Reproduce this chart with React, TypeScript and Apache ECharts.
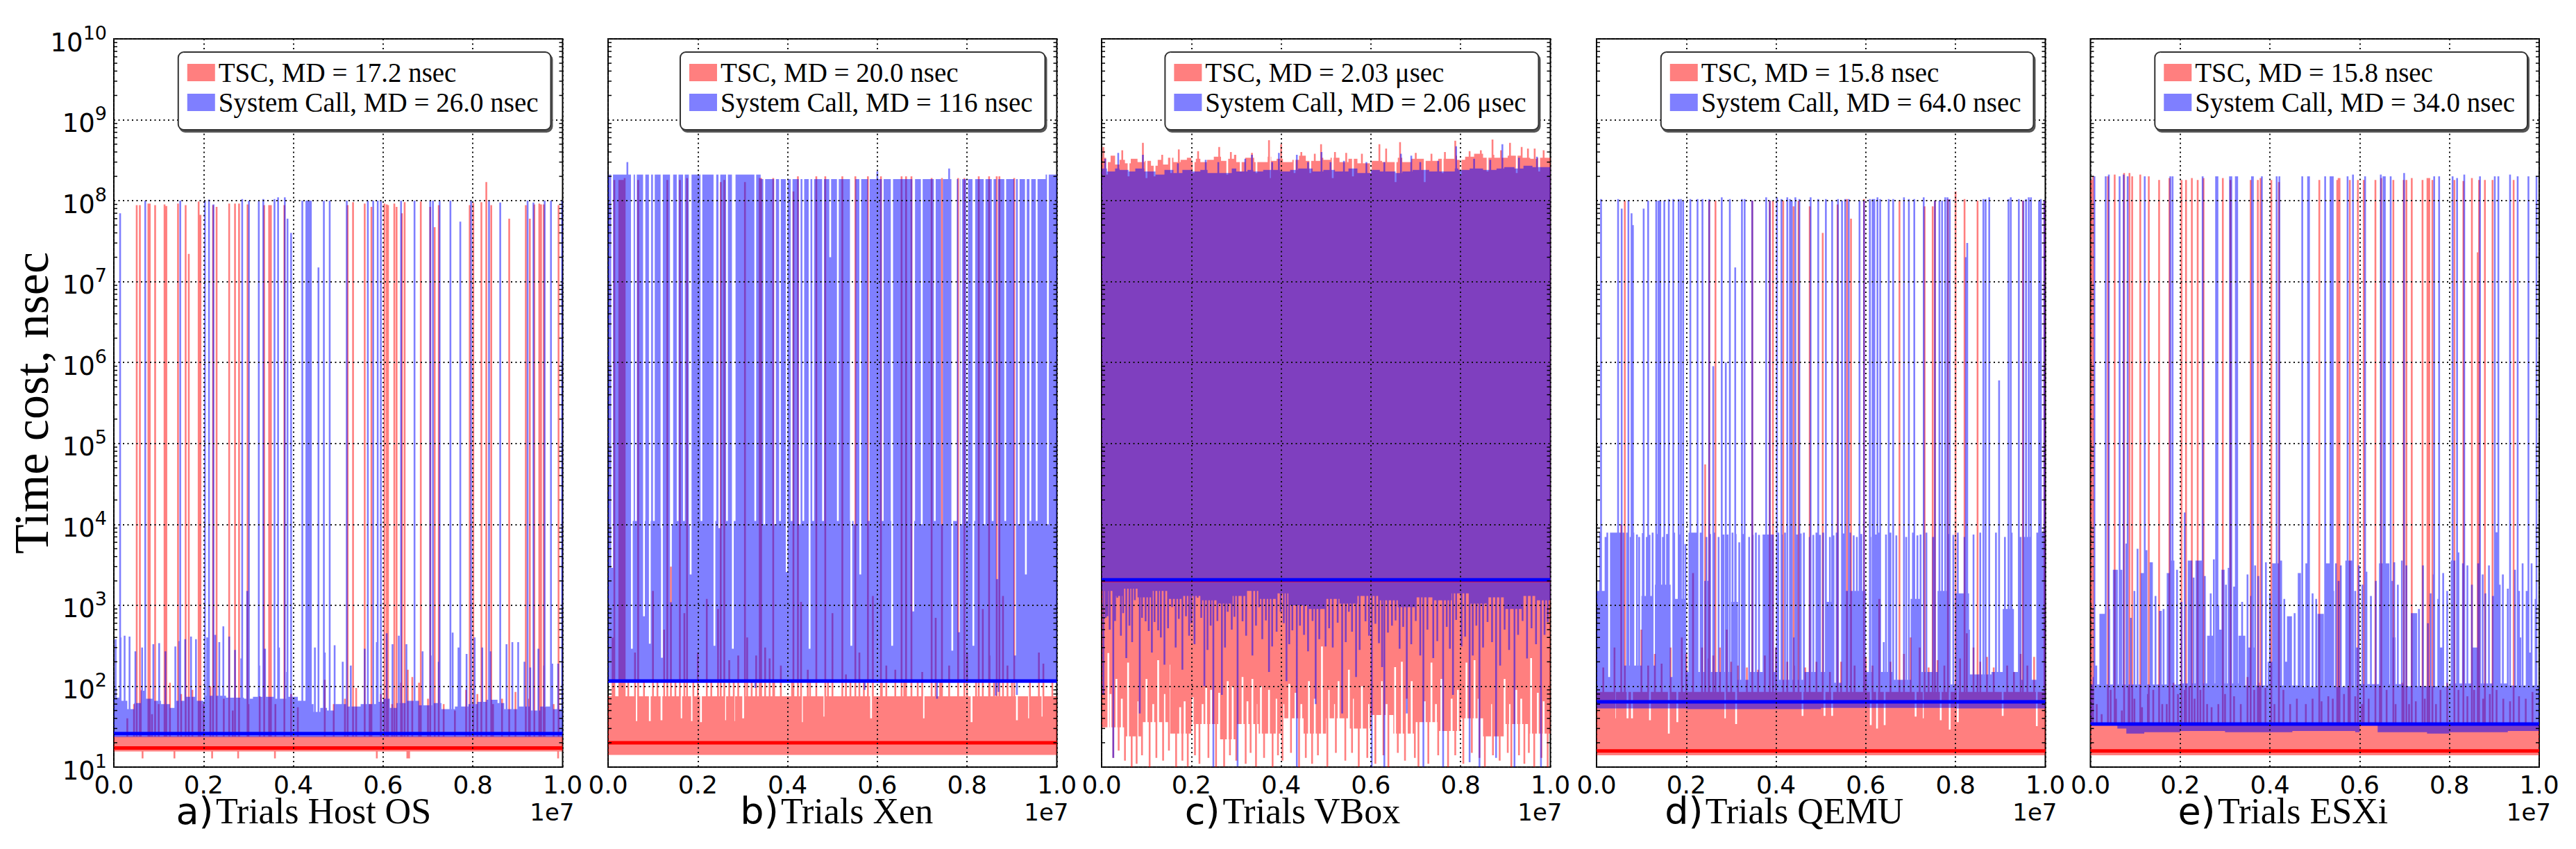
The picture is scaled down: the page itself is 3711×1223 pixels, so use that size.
import React, { useEffect, useRef } from "react";
import * as echarts from "echarts";

type Mark = number[];

const xTicks = [0, 0.2, 0.4, 0.6, 0.8, 1];
const gridLefts = [164, 876, 1587, 2300, 3011.5];
const labelShift = [100, -12, 96, 106, 92];
const panelNames = ["Host OS", "Xen", "VBox", "QEMU", "ESXi"];
const panelLetters = ["a)", "b)", "c)", "d)", "e)"];
const tscMedians = [17.2, 20, 2030, 15.8, 15.8];
const sysMedians = [26, 116, 2060, 64, 34];
const tscLegends = ["TSC, MD = 17.2 nsec", "TSC, MD = 20.0 nsec", "TSC, MD = 2.03 μsec", "TSC, MD = 15.8 nsec", "TSC, MD = 15.8 nsec"];
const sysLegends = ["System Call, MD = 26.0 nsec", "System Call, MD = 116 nsec", "System Call, MD = 2.06 μsec", "System Call, MD = 64.0 nsec", "System Call, MD = 34.0 nsec"];

// ---------- a) Host OS
const aTscTop = [[0, 24]];
const aTscLow = [[0, 15.6]];
const aTscDips = [[0.064, 12.8], [0.135, 12.8], [0.219, 12.8], [0.277, 12.8], [0.359, 12.8], [0.586, 12.8], [0.654, 12.8], [0.658, 12.8], [0.99, 12.8]];
const aTscTall = [[0.051, 8.8e7], [0.058, 8.8e7], [0.077, 9.2e7], [0.08, 9.2e7], [0.092, 8.8e7], [0.113, 9e7], [0.117, 8.6e7], [0.143, 9.2e7], [0.16, 8.8e7], [0.167, 2.2e7], [0.189, 9.8e7], [0.193, 6.7e7], [0.221, 8.8e7], [0.229, 8.4e7], [0.257, 9.2e7], [0.27, 9.2e7], [0.279, 9.2e7], [0.298, 9e7], [0.335, 8.8e7], [0.346, 8.8e7], [0.35, 8.8e7], [0.38, 8.8e7], [0.521, 8.8e7], [0.533, 9.6e7], [0.559, 9.2e7], [0.574, 8.4e7], [0.603, 9.2e7], [0.608, 9e7], [0.611, 8.8e7], [0.625, 9.2e7], [0.63, 8.4e7], [0.642, 7e7], [0.648, 9.6e7], [0.684, 9.8e7], [0.705, 8.4e7], [0.715, 4.7e7], [0.724, 8.8e7], [0.793, 8.8e7], [0.801, 9.4e7], [0.819, 9.6e7], [0.83, 1.7e8], [0.841, 8.8e7], [0.881, 6e7], [0.918, 8.8e7], [0.927, 6e7], [0.937, 9e7], [0.948, 9.2e7], [0.952, 9e7], [0.958, 9e7], [0.991, 8.8e7]];
const aTscShort = [[0.03, 40], [0.045, 60], [0.06, 90], [0.085, 45], [0.1, 60], [0.125, 110], [0.15, 80], [0.175, 90], [0.2, 60], [0.215, 100], [0.245, 70], [0.265, 50], [0.3, 60], [0.325, 75], [0.36, 60], [0.395, 80], [0.41, 55], [0.47, 120], [0.49, 60], [0.515, 70], [0.54, 95], [0.57, 60], [0.595, 80], [0.62, 60], [0.64, 110], [0.655, 160], [0.665, 130], [0.68, 110], [0.7, 70], [0.735, 60], [0.76, 50], [0.785, 90], [0.81, 80], [0.845, 60], [0.865, 70], [0.895, 85], [0.925, 70], [0.96, 55], [0.98, 60]];
const aSysTop = [[0, 72], [0.012, 66], [0.03, 52], [0.045, 62], [0.06, 88], [0.07, 70], [0.09, 66], [0.105, 60], [0.125, 54], [0.135, 66], [0.16, 74], [0.185, 66], [0.2, 60], [0.205, 76], [0.25, 72], [0.29, 70], [0.31, 74], [0.36, 70], [0.385, 74], [0.41, 66], [0.43, 60], [0.445, 48], [0.46, 54], [0.475, 50], [0.49, 60], [0.52, 56], [0.55, 60], [0.585, 64], [0.6, 70], [0.615, 54], [0.63, 62], [0.65, 66], [0.68, 58], [0.71, 62], [0.73, 52], [0.76, 56], [0.79, 60], [0.81, 64], [0.83, 68], [0.855, 62], [0.87, 52], [0.9, 56], [0.93, 50], [0.95, 56], [0.975, 52]];
const aSysLow = [[0, 23.5]];
const aSysTall = [[0.014, 7e7], [0.07, 1e8], [0.148, 1e8], [0.203, 1e8], [0.212, 1.03e8], [0.222, 9e7], [0.286, 1.05e8], [0.301, 1e8], [0.323, 1e8], [0.333, 1.05e8], [0.358, 1.05e8], [0.366, 1.1e8], [0.381, 1.1e8], [0.387, 6e7], [0.395, 4e7], [0.42, 1e8], [0.456, 1.5e7], [0.468, 1e8], [0.481, 1e8], [0.519, 1e8], [0.566, 1e8], [0.578, 1e8], [0.588, 1e8], [0.595, 1e8], [0.64, 1e8], [0.67, 1e8], [0.705, 1e8], [0.711, 1e8], [0.726, 1e8], [0.75, 1e8], [0.772, 5.5e7], [0.796, 1e8], [0.836, 1e8], [0.861, 9.5e7], [0.922, 1e8], [0.935, 9.5e7], [0.96, 1e8], [0.974, 1e8], [0.999, 1e8]];
const aSysMid = [[0.004, 380], [0.015, 400], [0.024, 420], [0.035, 410], [0.048, 270], [0.063, 300], [0.088, 330], [0.101, 340], [0.115, 270], [0.137, 310], [0.146, 360], [0.159, 380], [0.172, 410], [0.183, 380], [0.208, 400], [0.226, 430], [0.235, 350], [0.244, 550], [0.257, 410], [0.27, 280], [0.284, 220], [0.297, 1500], [0.324, 180], [0.337, 290], [0.368, 300], [0.386, 150], [0.435, 350], [0.448, 300], [0.47, 260], [0.492, 320], [0.51, 200], [0.528, 180], [0.559, 290], [0.586, 350], [0.608, 450], [0.621, 330], [0.635, 420], [0.652, 330], [0.67, 310], [0.688, 270], [0.706, 240], [0.724, 200], [0.755, 460], [0.768, 300], [0.786, 250], [0.804, 400], [0.821, 300], [0.839, 270], [0.875, 330], [0.888, 350], [0.901, 350], [0.915, 200], [0.928, 170], [0.946, 290], [0.959, 180], [0.977, 190], [0.99, 190]];
const aSysBlocks = [[0.427, 0.441, 1.0e8]];

// ---------- b) Xen
const bTscTop = [[0, 75]];
const bTscLow = [[0, 14.1]];
const bTscGaps = [[0.063, 37], [0.093, 37], [0.119, 38], [0.163, 40], [0.187, 37], [0.207, 36], [0.261, 38], [0.281, 37], [0.301, 40], [0.432, 36], [0.482, 42], [0.522, 40], [0.586, 40], [0.676, 38], [0.703, 40], [0.76, 38], [0.81, 36], [0.911, 38], [0.938, 40], [0.968, 42]];
const bTscTall = [[0.014, 1.8e8], [0.025, 1.8e8], [0.031, 1.8e8], [0.037, 1.9e8], [0.067, 1.8e8], [0.132, 1.8e8], [0.16, 1.8e8], [0.176, 1.9e8], [0.251, 1.7e8], [0.259, 1.8e8], [0.305, 1.7e8], [0.338, 1.9e8], [0.341, 1.9e8], [0.368, 1.9e8], [0.413, 1.3e8], [0.423, 2e8], [0.464, 2e8], [0.484, 2e8], [0.522, 2e8], [0.551, 2e8], [0.579, 2e8], [0.608, 2e8], [0.654, 2e8], [0.664, 2e8], [0.676, 2e8], [0.721, 1.9e8], [0.744, 1.9e8], [0.78, 1.9e8], [0.794, 1.9e8], [0.826, 2e8], [0.849, 2e8], [0.866, 2e8], [0.872, 2e8], [0.905, 1.9e8]];
const bTscBlocks = [[0.025, 0.038, 1.8e8]];
const bTscMid = [[0.01, 400], [0.06, 260], [0.1, 1500], [0.125, 500], [0.14, 3000], [0.17, 800], [0.2, 260], [0.22, 1200], [0.245, 900], [0.27, 210], [0.29, 240], [0.31, 400], [0.33, 240], [0.35, 300], [0.36, 220], [0.385, 180], [0.43, 1100], [0.445, 160], [0.5, 800], [0.53, 140], [0.56, 260], [0.59, 1300], [0.62, 180], [0.64, 160], [0.7, 150], [0.73, 700], [0.76, 180], [0.8, 260], [0.835, 900], [0.85, 240], [0.88, 1300], [0.89, 180], [0.96, 260], [0.97, 190], [0.045, 120], [0.08, 120], [0.11, 120], [0.15, 120], [0.19, 120], [0.23, 120], [0.28, 120], [0.32, 120], [0.37, 120], [0.41, 120], [0.45, 120], [0.49, 120], [0.54, 120], [0.57, 120], [0.61, 120], [0.66, 120], [0.69, 120], [0.74, 120], [0.78, 120], [0.82, 120], [0.86, 120], [0.9, 120], [0.94, 120], [0.99, 120]];
const bSysTop = [[0, 2.1e8], [0.34, 1.85e8], [0.975, 2.1e8]];
const bSysLow = [[0, 110]];
const bSysDips = [[0.328, 95], [0.572, 90], [0.733, 70], [0.864, 76], [0.87, 85], [0.911, 78]];
const bSysPeaks = [[0.043, 3e8], [0.76, 2.5e8], [0.6, 2.3e8]];
const bSysGaps = [[0.055, 1.1e4], [0.062, 1.1e4], [0.081, 1.1e4], [0.094, 1.1e4], [0.102, 1.1e4], [0.119, 9e3], [0.143, 1e4], [0.155, 1.1e4], [0.169, 1.1e4], [0.182, 1e4], [0.208, 1.1e4], [0.239, 1.1e4], [0.248, 9e3], [0.265, 1.1e4], [0.282, 1.1e4], [0.328, 1.1e4], [0.348, 1e4], [0.372, 1e4], [0.383, 1.1e4], [0.409, 1.1e4], [0.427, 1e4], [0.435, 1.1e4], [0.457, 1.1e4], [0.479, 1.1e4], [0.495, 2e7], [0.512, 1.1e4], [0.541, 1.1e4], [0.545, 1.1e4], [0.549, 1e4], [0.581, 1.1e4], [0.612, 1.1e4], [0.632, 1.1e4], [0.682, 1.1e4], [0.699, 1e4], [0.728, 1.1e4], [0.744, 1e4], [0.771, 1.1e4], [0.775, 1.1e4], [0.787, 1e4], [0.8, 1.1e4], [0.816, 1.1e4], [0.839, 1e4], [0.857, 1.1e4], [0.885, 1.1e4], [0.915, 1e4], [0.941, 1.1e4], [0.955, 1.1e4], [0.98, 1e4], [0.009, 2900], [0.053, 290], [0.08, 730], [0.093, 335], [0.12, 225], [0.14, 1090], [0.184, 2400], [0.237, 315], [0.278, 290], [0.398, 2570], [0.449, 290], [0.542, 315], [0.562, 2400], [0.633, 315], [0.68, 840], [0.767, 275], [0.782, 465], [0.814, 315], [0.867, 2100], [0.907, 240], [0.931, 2400]];

// ---------- c) VBox
const cTscTop = [[0, 3.4e8], [0.01, 3e8], [0.02, 3.6e8], [0.03, 2.8e8], [0.04, 3.2e8], [0.052, 2.9e8], [0.065, 3.3e8], [0.08, 3e8], [0.096, 3.1e8], [0.11, 2.7e8], [0.125, 3.2e8], [0.135, 2.8e8], [0.148, 3.4e8], [0.16, 3e8], [0.176, 3.2e8], [0.19, 3.4e8], [0.2, 3e8], [0.21, 3.3e8], [0.22, 3e8], [0.235, 3.2e8], [0.25, 3.5e8], [0.266, 3.1e8], [0.28, 3.3e8], [0.295, 3.7e8], [0.3, 3e8], [0.32, 3.4e8], [0.34, 3e8], [0.37, 3.5e8], [0.378, 3.1e8], [0.39, 3.3e8], [0.404, 3e8], [0.425, 3.2e8], [0.44, 3.6e8], [0.455, 3.1e8], [0.487, 3.4e8], [0.494, 3.2e8], [0.51, 3.4e8], [0.53, 3e8], [0.55, 3.3e8], [0.57, 2.9e8], [0.6, 3.1e8], [0.625, 3e8], [0.64, 3e8], [0.66, 3.4e8], [0.67, 3e8], [0.69, 3.3e8], [0.72, 3.1e8], [0.75, 3.3e8], [0.786, 3.6e8], [0.792, 3.2e8], [0.81, 3.5e8], [0.83, 3.8e8], [0.85, 3.4e8], [0.87, 3.7e8], [0.875, 3.4e8], [0.905, 3.6e8], [0.915, 3.6e8], [0.935, 3.4e8], [0.955, 3.3e8], [0.97, 3.4e8], [0.99, 3.4e8]];
const cTscPeaks = [[0.004, 4.6e8], [0.046, 4.2e8], [0.092, 5.2e8], [0.135, 3.7e8], [0.172, 4.3e8], [0.215, 4.1e8], [0.262, 4.6e8], [0.288, 4e8], [0.335, 3.9e8], [0.373, 5.6e8], [0.4, 5e8], [0.445, 4e8], [0.475, 3.8e8], [0.489, 5e8], [0.52, 4e8], [0.545, 3.9e8], [0.58, 3.8e8], [0.619, 5e8], [0.634, 4.4e8], [0.665, 5.3e8], [0.7, 3.9e8], [0.735, 3.8e8], [0.765, 4e8], [0.788, 5.5e8], [0.82, 4.1e8], [0.845, 4.2e8], [0.871, 5.7e8], [0.89, 4.2e8], [0.91, 5.2e8], [0.936, 4.6e8], [0.95, 4.4e8], [0.965, 4.4e8], [0.985, 4.2e8]];
const cTscDrop = [[0.012, 2.1e8], [0.06, 2e8], [0.1, 1.9e8], [0.118, 2e8], [0.155, 2.2e8], [0.205, 2.2e8], [0.28, 2.1e8], [0.31, 2.3e8], [0.345, 2.2e8], [0.375, 1.9e8], [0.43, 2.2e8], [0.465, 2.2e8], [0.515, 1.9e8], [0.56, 2e8], [0.6, 2.2e8], [0.655, 1.7e8], [0.72, 1.7e8], [0.76, 2.2e8], [0.8, 2.1e8], [0.86, 2.3e8], [0.925, 2.2e8], [0.975, 2.3e8]];
const cTscLow = [[0, 31], [0.05, 24], [0.09, 36], [0.15, 26], [0.2, 34], [0.26, 22], [0.3, 34], [0.35, 26], [0.4, 40], [0.45, 26], [0.5, 40], [0.55, 30], [0.6, 44], [0.65, 26], [0.7, 36], [0.75, 28], [0.8, 40], [0.85, 24], [0.9, 34], [0.95, 26]];
const cTscRises = [[0.015, 256], [0.033, 123], [0.059, 196], [0.1, 123], [0.126, 210], [0.151, 184], [0.203, 73], [0.233, 95], [0.244, 90], [0.262, 83], [0.281, 115], [0.292, 100], [0.314, 130], [0.336, 123], [0.355, 100], [0.373, 90], [0.418, 107], [0.432, 83], [0.462, 115], [0.491, 310], [0.506, 90], [0.528, 115], [0.551, 160], [0.58, 100], [0.625, 115], [0.654, 172], [0.669, 200], [0.691, 115], [0.735, 196], [0.757, 123], [0.794, 90], [0.813, 196], [0.831, 210], [0.898, 123], [0.924, 90], [0.957, 222], [0.972, 83], [0.02, 80], [0.045, 70], [0.08, 65], [0.115, 60], [0.14, 80], [0.175, 55], [0.185, 65], [0.225, 60], [0.3, 70], [0.325, 65], [0.345, 60], [0.39, 70], [0.405, 60], [0.445, 60], [0.475, 70], [0.52, 60], [0.56, 70], [0.595, 60], [0.635, 60], [0.68, 70], [0.72, 65], [0.745, 60], [0.78, 70], [0.84, 70], [0.87, 60], [0.91, 60], [0.935, 70], [0.985, 65]];
const cTscDips = [[0.026, 13], [0.038, 16], [0.052, 12], [0.067, 10], [0.078, 11], [0.09, 14], [0.107, 10], [0.122, 13], [0.137, 12], [0.15, 16], [0.166, 10], [0.18, 12], [0.192, 10], [0.208, 14], [0.218, 11], [0.238, 13], [0.255, 10], [0.273, 10], [0.286, 14], [0.3, 12], [0.321, 11], [0.332, 15], [0.344, 10], [0.362, 13], [0.381, 10], [0.393, 14], [0.403, 12], [0.422, 15], [0.44, 10], [0.455, 13], [0.469, 11], [0.482, 14], [0.503, 10], [0.522, 15], [0.543, 12], [0.558, 15], [0.573, 10], [0.592, 13], [0.61, 11], [0.628, 14], [0.639, 10], [0.66, 15], [0.676, 12], [0.698, 13], [0.706, 10], [0.728, 11], [0.75, 14], [0.772, 10], [0.788, 14], [0.806, 11], [0.825, 15], [0.842, 13], [0.854, 10], [0.872, 14], [0.887, 12], [0.905, 15], [0.913, 10], [0.93, 14], [0.942, 11], [0.952, 15], [0.964, 10], [0.98, 13], [0.994, 10]];
const cSysTop = [[0, 2.5e8], [0.012, 2.3e8], [0.03, 2.5e8], [0.04, 2.4e8], [0.06, 2.3e8], [0.075, 2.5e8], [0.095, 2.3e8], [0.12, 2.1e8], [0.14, 2.4e8], [0.16, 2.2e8], [0.18, 2.4e8], [0.2, 2.3e8], [0.22, 2.4e8], [0.236, 2.2e8], [0.29, 2.5e8], [0.3, 2.3e8], [0.325, 2.4e8], [0.338, 2.3e8], [0.36, 2.4e8], [0.398, 2.3e8], [0.42, 2.4e8], [0.438, 2.5e8], [0.47, 2.3e8], [0.494, 2.4e8], [0.52, 2.3e8], [0.55, 2.5e8], [0.57, 2.2e8], [0.6, 2.4e8], [0.62, 2.3e8], [0.655, 2.2e8], [0.67, 2.3e8], [0.693, 2.4e8], [0.73, 2.3e8], [0.787, 2.5e8], [0.795, 2.4e8], [0.82, 2.5e8], [0.85, 2.4e8], [0.88, 2.5e8], [0.897, 2.6e8], [0.92, 2.5e8], [0.94, 2.7e8], [0.96, 2.6e8]];
const cSysPeaks = [[0.008, 3.3e8], [0.037, 3.9e8], [0.092, 3.7e8], [0.17, 2.9e8], [0.232, 3.2e8], [0.26, 3e8], [0.32, 3.3e8], [0.335, 3.7e8], [0.38, 3e8], [0.395, 3.9e8], [0.435, 3.7e8], [0.46, 3e8], [0.49, 4e8], [0.51, 3e8], [0.54, 3.1e8], [0.59, 3e8], [0.63, 3e8], [0.667, 3.8e8], [0.69, 3.6e8], [0.71, 3e8], [0.75, 3.1e8], [0.79, 4.7e8], [0.83, 3.3e8], [0.866, 3.2e8], [0.893, 5e8], [0.93, 3.4e8], [0.97, 3.5e8]];
const cSysLow = [[0, 1500], [0.03, 1300], [0.05, 1600], [0.08, 1250], [0.11, 1500], [0.15, 1200], [0.18, 1300], [0.22, 1150], [0.26, 1050], [0.29, 1300], [0.32, 1500], [0.35, 1200], [0.39, 1400], [0.42, 1000], [0.46, 900], [0.5, 1200], [0.53, 1050], [0.57, 1300], [0.62, 1150], [0.66, 950], [0.7, 1250], [0.74, 1150], [0.78, 1400], [0.82, 1050], [0.86, 1250], [0.9, 900], [0.94, 1300], [0.97, 1150]];
const cSysDips = [[0.004, 78], [0.013, 730], [0.026, 13], [0.035, 1240], [0.055, 222], [0.074, 1160], [0.085, 46], [0.098, 635], [0.126, 490], [0.14, 184], [0.157, 950], [0.18, 160], [0.188, 730], [0.214, 1240], [0.229, 100], [0.249, 10], [0.268, 78], [0.281, 830], [0.303, 10], [0.314, 635], [0.336, 240], [0.351, 950], [0.373, 150], [0.399, 830], [0.412, 115], [0.425, 490], [0.435, 10], [0.451, 430], [0.477, 60], [0.499, 310], [0.536, 46], [0.551, 830], [0.567, 130], [0.588, 635], [0.602, 10], [0.625, 172], [0.63, 10], [0.647, 560], [0.68, 46], [0.717, 10], [0.739, 222], [0.761, 10], [0.783, 78], [0.802, 310], [0.82, 11.5], [0.842, 10], [0.879, 13], [0.92, 10], [0.979, 10]];
const cSysNotches = [[0.009, 700], [0.018, 500], [0.03, 640], [0.043, 420], [0.048, 800], [0.062, 560], [0.068, 350], [0.09, 700], [0.105, 480], [0.112, 260], [0.118, 620], [0.132, 400], [0.148, 520], [0.165, 300], [0.172, 680], [0.195, 420], [0.2, 600], [0.207, 330], [0.222, 700], [0.236, 280], [0.243, 560], [0.258, 640], [0.275, 300], [0.29, 500], [0.296, 720], [0.322, 420], [0.344, 560], [0.358, 380], [0.366, 650], [0.38, 310], [0.39, 470], [0.406, 600], [0.418, 330], [0.442, 560], [0.46, 270], [0.47, 640], [0.485, 380], [0.507, 520], [0.515, 300], [0.526, 610], [0.544, 350], [0.558, 470], [0.575, 280], [0.596, 420], [0.61, 590], [0.618, 340], [0.638, 460], [0.655, 650], [0.664, 290], [0.672, 540], [0.69, 330], [0.7, 640], [0.71, 240], [0.726, 500], [0.748, 360], [0.769, 540], [0.776, 290], [0.79, 660], [0.81, 410], [0.827, 240], [0.835, 560], [0.85, 300], [0.86, 620], [0.87, 350], [0.888, 180], [0.898, 500], [0.908, 280], [0.928, 430], [0.938, 640], [0.948, 220], [0.958, 520], [0.968, 330], [0.987, 430], [0.994, 620]];

// ---------- d) QEMU
const dTscTop = [[0, 85]];
const dTscLow = [[0, 14]];
const dTscGaps = [[0.041, 40], [0.069, 40], [0.079, 40], [0.119, 38], [0.161, 26], [0.18, 36], [0.287, 40], [0.311, 34], [0.459, 43], [0.508, 43], [0.525, 43], [0.611, 33], [0.625, 30], [0.642, 33], [0.711, 42], [0.729, 40], [0.767, 38], [0.787, 29], [0.805, 36], [0.905, 43], [0.981, 32]];
const dTscTall = [[0.063, 1e8], [0.242, 5.5e4], [0.265, 1e8], [0.251, 1e8], [0.347, 1e8], [0.386, 1e8], [0.393, 1e8], [0.416, 1e8], [0.439, 8.5e7], [0.45, 1e8], [0.475, 8.5e7], [0.504, 4e7], [0.537, 9e7], [0.558, 1.05e8], [0.567, 6e7], [0.596, 1.05e8], [0.675, 1e8], [0.731, 8.5e7], [0.749, 8.5e7], [0.754, 1e8], [0.783, 1.05e8], [0.8, 1.3e8], [0.82, 1.05e8], [0.849, 1e8], [0.95, 1e8], [0.998, 1e8]];
const dTscMid = [[0.015, 170], [0.04, 300], [0.055, 1e4], [0.1, 500], [0.115, 180], [0.13, 250], [0.145, 190], [0.165, 300], [0.19, 400], [0.2, 250], [0.215, 2500], [0.235, 300], [0.25, 220], [0.26, 240], [0.275, 300], [0.29, 500], [0.3, 200], [0.315, 180], [0.335, 170], [0.36, 160], [0.375, 240], [0.4, 300], [0.425, 200], [0.44, 180], [0.465, 170], [0.49, 200], [0.52, 150], [0.545, 200], [0.575, 180], [0.6, 230], [0.615, 180], [0.63, 1200], [0.655, 200], [0.685, 250], [0.7, 400], [0.72, 300], [0.74, 170], [0.76, 210], [0.775, 180], [0.81, 220], [0.825, 450], [0.84, 300], [0.855, 200], [0.87, 230], [0.885, 170], [0.915, 180], [0.93, 150], [0.945, 250], [0.96, 180], [0.975, 230]];
const dSysTop = [[0, 130], [0.06, 180], [0.13, 130], [0.17, 110], [0.2, 150], [0.3, 120], [0.34, 150], [0.4, 120], [0.46, 150], [0.52, 110], [0.58, 150], [0.66, 120], [0.72, 150], [0.78, 105], [0.82, 140], [0.88, 150], [0.94, 120]];
const dSysLow = [[0, 53], [0.2, 52], [0.5, 54], [0.8, 53]];
const dSysBlocks = [[0.0, 0.02, 1500], [0.03, 0.062, 7900], [0.1, 0.126, 1300], [0.13, 0.165, 1800], [0.17, 0.2, 1200], [0.205, 0.225, 7900], [0.24, 0.255, 2000], [0.3, 0.315, 1100], [0.37, 0.395, 7500], [0.51, 0.53, 1100], [0.555, 0.6, 1500], [0.7, 0.72, 1200], [0.76, 0.78, 1500], [0.8, 0.83, 1400], [0.905, 0.93, 900], [0.95, 0.97, 7000], [0.98, 1, 7900]];
const dSysMid = [[0.008, 7900], [0.02, 7000], [0.024, 7900], [0.068, 7900], [0.076, 7000], [0.082, 7900], [0.09, 7500], [0.095, 7000], [0.103, 7800], [0.112, 7000], [0.118, 7400], [0.125, 7900], [0.136, 7600], [0.148, 7000], [0.157, 7600], [0.173, 7900], [0.185, 7500], [0.198, 5700], [0.232, 7900], [0.245, 7000], [0.253, 7600], [0.262, 7900], [0.272, 7000], [0.283, 7500], [0.292, 7500], [0.303, 7900], [0.31, 7600], [0.318, 6000], [0.327, 7600], [0.34, 7000], [0.348, 7400], [0.355, 7900], [0.362, 7400], [0.405, 7900], [0.413, 7500], [0.42, 7900], [0.433, 7600], [0.447, 7500], [0.455, 7700], [0.462, 7900], [0.475, 7000], [0.483, 7400], [0.49, 7900], [0.498, 7400], [0.505, 7900], [0.52, 7000], [0.528, 7300], [0.535, 7900], [0.55, 7700], [0.565, 7900], [0.573, 7300], [0.58, 7000], [0.59, 7600], [0.61, 7000], [0.622, 7500], [0.63, 7900], [0.645, 7500], [0.655, 7900], [0.668, 7300], [0.69, 7000], [0.705, 7900], [0.715, 7300], [0.722, 7500], [0.735, 7900], [0.75, 7000], [0.77, 7900], [0.785, 7600], [0.795, 7400], [0.805, 7900], [0.82, 7000], [0.84, 7500], [0.855, 7900], [0.875, 7000], [0.89, 7900], [0.91, 7000], [0.925, 7900], [0.945, 7000], [0.4, 300], [0.44, 400], [0.64, 350], [0.83, 500]];
const dSysTall = [[0.01, 1.05e8], [0.048, 1.05e8], [0.056, 8e7], [0.071, 1e8], [0.078, 7e7], [0.081, 5e7], [0.105, 8e7], [0.115, 1e8], [0.133, 1e8], [0.138, 1e8], [0.142, 1e8], [0.151, 1e8], [0.161, 1.05e8], [0.171, 1.05e8], [0.183, 1.05e8], [0.188, 1.05e8], [0.193, 1e8], [0.209, 1.05e8], [0.225, 1.05e8], [0.236, 1.05e8], [0.251, 1.05e8], [0.26, 9e5], [0.279, 1.1e8], [0.288, 1e6], [0.297, 1.05e8], [0.309, 1.5e7], [0.324, 1.05e8], [0.33, 1.05e8], [0.347, 1e8], [0.378, 1.1e8], [0.386, 1e8], [0.402, 1.1e8], [0.412, 1.05e8], [0.425, 1.1e8], [0.431, 1.05e8], [0.435, 1e8], [0.443, 1.1e8], [0.452, 1.05e8], [0.477, 1.1e8], [0.494, 1.05e8], [0.511, 1.05e8], [0.525, 1e8], [0.538, 1.05e8], [0.547, 1e8], [0.554, 1.05e8], [0.562, 1.05e8], [0.586, 1e8], [0.596, 1e8], [0.609, 1.05e8], [0.615, 1.05e8], [0.619, 1.05e8], [0.626, 1.1e8], [0.632, 1.05e8], [0.651, 1.05e8], [0.661, 1.05e8], [0.685, 1.1e8], [0.696, 1.05e8], [0.708, 1.05e8], [0.729, 1.1e8], [0.754, 1e8], [0.764, 1e8], [0.77, 1e8], [0.777, 1.1e8], [0.782, 1.1e8], [0.787, 1.05e8], [0.823, 2e7], [0.826, 3e7], [0.862, 1.05e8], [0.867, 1.05e8], [0.875, 1.1e8], [0.897, 6e5], [0.918, 1.05e8], [0.923, 1.1e8], [0.941, 1.05e8], [0.951, 1e8], [0.957, 1.05e8], [0.963, 1.1e8], [0.968, 1.1e8], [0.986, 1e8], [0.99, 1.05e8], [0.998, 1e8]];

// ---------- e) ESXi
const eTscTop = [[0, 34]];
const eTscLow = [[0, 14]];
const eTscTall = [[0.002, 1.8e8], [0.006, 2e8], [0.039, 2e8], [0.054, 2.1e8], [0.075, 2.2e8], [0.087, 2.2e8], [0.093, 2e8], [0.111, 2.1e8], [0.13, 2e8], [0.153, 1.8e8], [0.176, 1.9e8], [0.203, 1.8e8], [0.213, 1.8e8], [0.226, 1.9e8], [0.239, 1.8e8], [0.252, 1.9e8], [0.295, 1.9e8], [0.312, 1.8e8], [0.357, 1.8e8], [0.373, 1.8e8], [0.379, 1.9e8], [0.403, 1.8e8], [0.42, 1.7e8], [0.51, 1.8e8], [0.55, 1.8e8], [0.553, 1.9e8], [0.555, 1.9e8], [0.578, 1.8e8], [0.596, 1.8e8], [0.609, 1.8e8], [0.635, 1.8e8], [0.648, 1.9e8], [0.675, 1.8e8], [0.698, 1.8e8], [0.704, 1.8e8], [0.716, 1.9e8], [0.74, 1.8e8], [0.751, 1.9e8], [0.755, 1.9e8], [0.762, 1.8e8], [0.811, 1.8e8], [0.831, 1.75e8], [0.85, 1.9e8], [0.863, 2.3e7], [0.866, 1.8e8], [0.879, 1.8e8], [0.896, 1.8e8], [0.943, 1.8e8]];
const eTscMid = [[0.014, 60], [0.025, 45], [0.045, 90], [0.057, 70], [0.07, 50], [0.085, 100], [0.098, 70], [0.115, 55], [0.128, 80], [0.14, 90], [0.16, 60], [0.17, 60], [0.185, 110], [0.195, 80], [0.21, 90], [0.22, 100], [0.232, 70], [0.245, 90], [0.26, 60], [0.27, 55], [0.285, 60], [0.3, 80], [0.32, 75], [0.335, 60], [0.35, 130], [0.365, 90], [0.375, 110], [0.39, 95], [0.41, 60], [0.43, 90], [0.445, 60], [0.46, 70], [0.48, 60], [0.495, 70], [0.515, 65], [0.53, 75], [0.54, 70], [0.565, 80], [0.575, 100], [0.59, 75], [0.605, 60], [0.62, 70], [0.645, 100], [0.66, 90], [0.68, 60], [0.695, 110], [0.71, 60], [0.725, 65], [0.745, 70], [0.77, 60], [0.78, 90], [0.795, 110], [0.82, 90], [0.84, 75], [0.855, 90], [0.875, 70], [0.89, 80], [0.905, 90], [0.92, 70], [0.935, 65], [0.955, 75], [0.97, 70], [0.985, 85]];
const eSysTop = [[0, 105], [0.2, 108], [0.33, 102], [0.47, 98], [0.6, 106], [0.7, 100], [0.8, 108], [0.93, 102]];
const eSysLow = [[0, 34], [0.06, 30], [0.08, 26], [0.12, 27], [0.2, 28], [0.3, 27], [0.45, 28], [0.59, 27], [0.6, 35], [0.625, 35], [0.64, 27], [0.75, 26], [0.8, 27], [0.93, 28]];
const eSysBlocks = [[0.02, 0.033, 785], [0.05, 0.061, 2750], [0.064, 0.071, 2750], [0.078, 0.084, 5800], [0.112, 0.122, 2500], [0.132, 0.139, 3400], [0.153, 0.159, 850], [0.17, 0.18, 2500], [0.18, 0.187, 3570], [0.217, 0.227, 3570], [0.234, 0.251, 3570], [0.292, 0.299, 2750], [0.306, 0.316, 2900], [0.405, 0.421, 3300], [0.438, 0.449, 730], [0.462, 0.469, 2500], [0.479, 0.489, 3300], [0.506, 0.52, 785], [0.523, 0.537, 3300], [0.568, 0.585, 3570], [0.643, 0.666, 3300], [0.714, 0.728, 800], [0.803, 0.813, 3570], [0.26, 0.275, 420], [0.28, 0.292, 500], [0.33, 0.345, 420], [0.352, 0.365, 300], [0.395, 0.405, 200], [0.43, 0.438, 200], [0.59, 0.6, 300], [0.67, 0.68, 400], [0.775, 0.785, 300], [0.85, 0.862, 300], [0.895, 0.905, 240], [0.95, 0.96, 400], [0.97, 0.985, 260]];
const eSysMid = [[0.007, 130], [0.013, 180], [0.042, 900], [0.09, 700], [0.098, 1500], [0.105, 5000], [0.125, 4800], [0.145, 1300], [0.163, 900], [0.193, 2750], [0.203, 1100], [0.21, 1.4e4], [0.23, 2200], [0.255, 2300], [0.268, 1400], [0.275, 3700], [0.285, 1000], [0.302, 1800], [0.32, 1700], [0.326, 3100], [0.338, 1100], [0.35, 2400], [0.358, 1300], [0.367, 3100], [0.374, 2300], [0.382, 1500], [0.391, 3400], [0.4, 1400], [0.425, 3570], [0.432, 1200], [0.455, 800], [0.473, 1000], [0.495, 1400], [0.503, 1200], [0.541, 1500], [0.547, 3300], [0.553, 2000], [0.558, 3100], [0.59, 1500], [0.598, 3100], [0.606, 1800], [0.615, 2600], [0.625, 1300], [0.636, 2000], [0.672, 2000], [0.677, 3400], [0.685, 1800], [0.694, 3570], [0.704, 3100], [0.732, 900], [0.741, 3100], [0.752, 600], [0.758, 1400], [0.765, 2400], [0.775, 1200], [0.786, 2500], [0.795, 1500], [0.82, 4500], [0.83, 3300], [0.84, 3100], [0.85, 1800], [0.864, 3300], [0.874, 2400], [0.88, 1400], [0.888, 3100], [0.897, 1300], [0.905, 8000], [0.912, 1800], [0.919, 2400], [0.93, 1600], [0.946, 2750], [0.955, 1500], [0.963, 3300], [0.972, 1500], [0.983, 3300], [0.992, 1200]];
const eSysTall = [[0.009, 2e8], [0.034, 2e8], [0.041, 2.1e8], [0.065, 2e8], [0.074, 2.1e8], [0.083, 2e8], [0.121, 2e8], [0.178, 2e8], [0.183, 2e8], [0.25, 2e8], [0.28, 2e8], [0.283, 2e8], [0.311, 2e8], [0.314, 2e8], [0.324, 2e8], [0.327, 2e8], [0.36, 2e8], [0.362, 2e8], [0.382, 2e8], [0.415, 2e8], [0.421, 2e8], [0.472, 2e8], [0.485, 2e8], [0.487, 2e8], [0.523, 2e8], [0.535, 2e8], [0.538, 2e8], [0.54, 2e8], [0.573, 2e8], [0.585, 2.1e8], [0.612, 2e8], [0.647, 2.1e8], [0.653, 2e8], [0.656, 2e8], [0.669, 2e8], [0.699, 2.2e8], [0.766, 2e8], [0.777, 2e8], [0.807, 2e8], [0.817, 1.9e8], [0.833, 2.1e8], [0.868, 2e8], [0.901, 2e8], [0.909, 2e8], [0.935, 2.1e8], [0.952, 2e8], [0.976, 2e8], [0.994, 2e8]];

const minorFactors = [2, 3, 4, 5, 6, 7, 8, 9];
const decades = [10, 100, 1000, 1e4, 1e5, 1e6, 1e7, 1e8, 1e9];

const SPIKE = 0.004;
const GRID_W = 646.5;
const GRID_H = 1049;
const SANS = "DejaVu Sans";
const SERIF = "Liberation Serif";
const RED = "rgba(255,0,0,0.5)";
const BLUE = "rgba(0,0,255,0.5)";

const span = (m: Mark) => (m.length === 3 ? [m[0], m[1], m[2]] : [m[0] - SPIKE / 2, m[0] + SPIKE / 2, m[1]]);

// Walks the marks left to right and gives the outline of one band.
function outline(base: number[][], rises: Mark[], falls: Mark[], risesWin: boolean) {
  const r = rises.map(span);
  const f = falls.map(span);
  const cuts = new Set<number>([0, 1]);
  base.forEach((b) => cuts.add(b[0]));
  [...r, ...f].forEach((s) => {
    cuts.add(Math.max(0, s[0]));
    cuts.add(Math.min(1, s[1]));
  });
  const xs = [...cuts].sort((p, q) => p - q);
  const out: number[][] = [];
  for (let i = 0; i + 1 < xs.length; i++) {
    const mid = (xs[i] + xs[i + 1]) / 2;
    let y = base[0][1];
    base.forEach((b) => {
      if (b[0] <= mid) y = b[1];
    });
    const up = () => r.forEach((s) => { if (s[0] <= mid && mid < s[1]) y = Math.max(y, s[2]); });
    const down = () => f.forEach((s) => { if (s[0] <= mid && mid < s[1]) y = Math.min(y, s[2]); });
    if (risesWin) { down(); up(); } else { up(); down(); }
    out.push([xs[i], y], [xs[i + 1], y]);
  }
  return out;
}

const bands = [
  {
    tsc: [outline(aTscTop, [...aTscTall, ...aTscShort], [], true), outline(aTscLow, [], aTscDips, false)],
    sys: [outline(aSysTop, [...aSysTall, ...aSysMid, ...aSysBlocks], [], true), outline(aSysLow, [], [], false)],
  },
  {
    tsc: [outline(bTscTop, [...bTscTall, ...bTscBlocks, ...bTscMid], bTscGaps, true), outline(bTscLow, [], [], false)],
    sys: [outline(bSysTop, bSysPeaks, bSysGaps, true), outline(bSysLow, [], bSysDips, false)],
  },
  {
    tsc: [outline(cTscTop, cTscPeaks, cTscDrop, true), outline(cTscLow, cTscRises, cTscDips, false)],
    sys: [outline(cSysTop, cSysPeaks, [], true), outline(cSysLow, [], [...cSysDips, ...cSysNotches], false)],
  },
  {
    tsc: [outline(dTscTop, [...dTscTall, ...dTscMid], dTscGaps, true), outline(dTscLow, [], [], false)],
    sys: [outline(dSysTop, [...dSysTall, ...dSysMid, ...dSysBlocks], [], true), outline(dSysLow, [], [], false)],
  },
  {
    tsc: [outline(eTscTop, [...eTscTall, ...eTscMid], [], true), outline(eTscLow, [], [], false)],
    sys: [outline(eSysTop, [...eSysTall, ...eSysMid, ...eSysBlocks], [], true), outline(eSysLow, [], [], false)],
  },
];

const minorTicks = decades.flatMap((d) => minorFactors.map((m) => [0, d * m]));

function bandSeries(name: string, color: string, idx: number, band: number[][][]) {
  const pts = [...band[0], ...[...band[1]].reverse()];
  return {
    type: "custom",
    name,
    xAxisIndex: idx,
    yAxisIndex: idx,
    coordinateSystem: "cartesian2d",
    data: pts,
    encode: { x: 0, y: 1 },
    clip: true,
    silent: true,
    itemStyle: { color },
    z: 2,
    renderItem: (p: any, api: any) =>
      p.dataIndex === 0
        ? { type: "polygon", shape: { points: pts.map((q) => api.coord(q)) }, style: { fill: color } }
        : null,
  };
}

function medianSeries(value: number, color: string, idx: number) {
  return {
    type: "line",
    xAxisIndex: idx,
    yAxisIndex: idx,
    data: [[0, value], [1, value]],
    showSymbol: false,
    silent: true,
    z: 3,
    lineStyle: { color, width: 5, opacity: 1 },
  };
}

function tickSeries(idx: number) {
  return {
    type: "custom",
    xAxisIndex: idx,
    yAxisIndex: idx,
    coordinateSystem: "cartesian2d",
    data: minorTicks,
    encode: { x: 0, y: 1 },
    silent: true,
    z: 6,
    renderItem: (_p: any, api: any) => {
      const a = api.coord([0, api.value(1)]);
      const b = api.coord([1, api.value(1)]);
      const style = { stroke: "#000", lineWidth: 1.5 };
      return {
        type: "group",
        children: [
          { type: "line", shape: { x1: a[0], y1: a[1], x2: a[0] + 5, y2: a[1] }, style },
          { type: "line", shape: { x1: b[0], y1: b[1], x2: b[0] - 5, y2: b[1] }, style },
        ],
      };
    },
  };
}

function buildOption() {
  const dotted = { color: "#111", width: 2, type: [2, 4.5] };
  const grid = gridLefts.map((left) => ({
    left,
    top: 56,
    width: GRID_W,
    height: GRID_H,
    show: true,
    borderColor: "#000",
    borderWidth: 2,
    backgroundColor: "#fff",
  }));
  const xAxis = gridLefts.map((_, i) => ({
    type: "value",
    gridIndex: i,
    min: 0,
    max: 1,
    interval: 0.2,
    z: 5,
    axisLine: { show: false },
    axisTick: { show: false },
    splitLine: { show: true, lineStyle: dotted },
    axisLabel: {
      show: true,
      margin: 7,
      fontFamily: SANS,
      fontSize: 36,
      color: "#000",
      showMinLabel: true,
      showMaxLabel: true,
      hideOverlap: false,
      formatter: (v: number) => v.toFixed(1),
    },
    name: `{l|${panelLetters[i]}} {t|Trials ${panelNames[i]}}`,
    nameLocation: "middle",
    nameMoveOverlap: false,
    nameGap: 44,
    nameTextStyle: {
      padding: labelShift[i] > 0 ? [0, labelShift[i], 0, 0] : [0, 0, 0, -labelShift[i]],
      rich: {
        l: { fontFamily: SANS, fontSize: 54, lineHeight: 38, color: "#000" },
        t: { fontFamily: SERIF, fontSize: 52, lineHeight: 38, color: "#000" },
      },
    },
  }));
  const yAxis = gridLefts.map((_, i) => ({
    type: "log",
    logBase: 10,
    gridIndex: i,
    min: 10,
    max: 1e10,
    splitNumber: 9,
    z: 5,
    axisLine: { show: false },
    axisTick: { show: false },
    splitLine: { show: true, lineStyle: dotted },
    axisLabel: {
      show: i === 0,
      margin: 10,
      formatter: (v: number) => `{b|10}{s|${Math.round(Math.log10(v))}}`,
      rich: {
        b: { fontFamily: SANS, fontSize: 37, color: "#000", padding: [10, 0, 0, 0] },
        s: { fontFamily: SANS, fontSize: 27, color: "#000", padding: [0, 0, 18, 0] },
      },
    },
    ...(i === 0
      ? {
          name: "Time cost, nsec",
          nameLocation: "middle",
          nameRotate: 90,
          nameMoveOverlap: false,
          nameGap: 84,
          nameTextStyle: { fontFamily: SERIF, fontSize: 70, color: "#000" },
        }
      : {}),
  }));
  const legend = gridLefts.map((left, i) => ({
    right: 3711 - (left + GRID_W - 17),
    top: 75,
    orient: "vertical",
    align: "left",
    selectedMode: false,
    z: 10,
    padding: [10, 18, 20, 13],
    itemWidth: 40,
    itemHeight: 25,
    itemGap: 4,
    backgroundColor: "#fff",
    borderColor: "#333",
    borderWidth: 2,
    borderRadius: 8,
    shadowColor: "#555",
    shadowOffsetX: 2,
    shadowOffsetY: 3,
    shadowBlur: 1,
    textStyle: { fontFamily: SERIF, fontSize: 39, color: "#000" },
    data: [
      { name: tscLegends[i], icon: "rect", itemStyle: { color: RED } },
      { name: sysLegends[i], icon: "rect", itemStyle: { color: BLUE } },
    ],
  }));
  const series = gridLefts.flatMap((_, i) => [
    bandSeries(tscLegends[i], RED, i, bands[i].tsc),
    bandSeries(sysLegends[i], BLUE, i, bands[i].sys),
    medianSeries(tscMedians[i], "#ff0000", i),
    medianSeries(sysMedians[i], "#0000ff", i),
    tickSeries(i),
  ]);
  const graphic = gridLefts.map((left) => ({
    type: "text",
    z: 10,
    x: left + GRID_W + 17,
    y: 1170,
    style: { text: "1e7", fontFamily: SANS, fontSize: 34, fill: "#000", align: "right", verticalAlign: "middle" },
  }));
  return { animation: false, backgroundColor: "#fff", grid, xAxis, yAxis, legend, series, graphic };
}

export default function App() {
  const ref = useRef<HTMLDivElement>(null);
  useEffect(() => {
    document.body.style.margin = "0";
    const chart = echarts.init(ref.current!, undefined, { renderer: "svg" });
    chart.setOption(buildOption() as any);
    return () => chart.dispose();
  }, []);
  return <div ref={ref} style={{ width: 3711, height: 1223 }} />;
}
